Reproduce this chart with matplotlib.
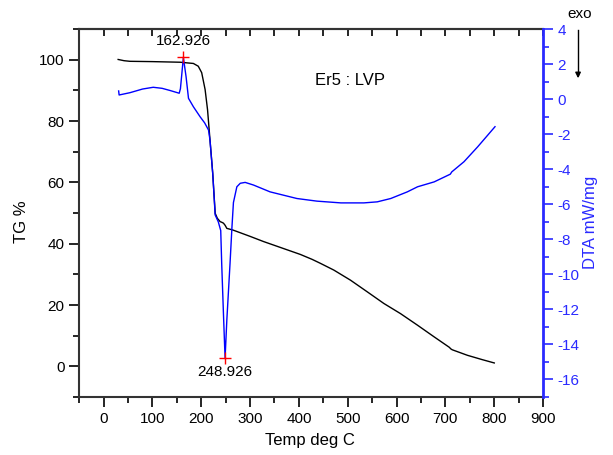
import matplotlib
matplotlib.use("Agg")
import matplotlib.pyplot as plt
from matplotlib.ticker import MultipleLocator, NullFormatter

plt.rcParams['font.family'] = ['Liberation Sans', 'DejaVu Sans']
plt.rcParams['axes.unicode_minus'] = False

# TG curve (black, left axis)
tg_temp = [30, 42, 54, 100, 157, 163.5, 184, 194, 201, 208, 213, 218, 223.6, 226.5,
           228.7, 233, 238.8, 242, 245.6, 249, 252.5, 259.5, 266, 300, 327.7, 360, 403,
           427, 444, 471.5, 505.7, 540, 574, 608, 643, 677, 708, 711, 714, 745, 775, 800]
tg_vals = [100.1, 99.7, 99.5, 99.4, 99.2, 99.1, 98.8, 97.9, 95.8, 90.3, 83.7, 73.9, 63, 55.4,
           49.9, 48.3, 47.2, 47.0, 46.7, 46.0, 45.0, 44.7, 44.4, 42.4, 40.7, 38.9, 36.5,
           34.9, 33.6, 31.4, 28.1, 24.3, 20.5, 17.2, 13.4, 9.6, 6.2, 5.7, 5.4, 3.6, 2.2, 1.1]

# DTA curve (blue, right axis)
dta_temp = [31, 32, 54, 80, 101.8, 120, 137, 155, 157.5, 163.5, 169, 174, 184, 197.7,
            207, 215, 218, 223.6, 226.5, 228.5, 235, 240, 242, 245.5, 248.9, 252.5,
            259, 263, 266, 273, 280, 290, 307, 341, 396, 437, 486, 533, 560.5, 588,
            622, 643, 677, 710, 713, 738, 766, 801.5]
dta_vals = [0.47, 0.24, 0.37, 0.58, 0.68, 0.62, 0.49, 0.34, 0.6, 2.38, 1.29, 0.05, -0.43, -1.0,
            -1.35, -1.76, -2.33, -4.24, -5.58, -6.6, -7.0, -7.5, -9.4, -12.2, -14.79, -12.6,
            -9.4, -7.29, -5.9, -5.0, -4.8, -4.75, -4.9, -5.29, -5.67, -5.82, -5.92, -5.92,
            -5.86, -5.67, -5.29, -5.0, -4.72, -4.28, -4.15, -3.57, -2.72, -1.57]

# marked peaks
peak_temps = [162.926, 248.926]
peak_dta = [2.38, -14.79]
peak_labels = ["162.926", "248.926"]

blue = '#0000ff'
axis_blue = '#2a2aff'

fig = plt.figure(figsize=(6.13, 4.55), dpi=100)
ax = fig.add_axes([0.129, 0.1275, 0.757, 0.8085])
ax2 = ax.twinx()

ax.plot(tg_temp, tg_vals, color='black', lw=1.0)
ax2.plot(dta_temp, dta_vals, color=blue, lw=1.0)
ax2.plot(peak_temps, peak_dta, ls='none', marker='+', color='red', ms=8, mew=1.0)

ax2.annotate(peak_labels[0], (peak_temps[0], peak_dta[0]), xytext=(0, 16),
             textcoords='offset pixels', ha='center', va='center', fontsize=11)
ax2.annotate(peak_labels[1], (peak_temps[1], peak_dta[1]), xytext=(0, -14),
             textcoords='offset pixels', ha='center', va='center', fontsize=11)

ax.set_xlim(-50, 900)
ax.set_ylim(-10, 110)
ax2.set_ylim(-17, 4)

ax.xaxis.set_major_locator(MultipleLocator(100))
ax.xaxis.set_minor_locator(MultipleLocator(50))
ax.yaxis.set_major_locator(MultipleLocator(20))
ax.yaxis.set_minor_locator(MultipleLocator(10))
ax2.yaxis.set_major_locator(MultipleLocator(2))
ax2.yaxis.set_minor_locator(MultipleLocator(1))

ax.tick_params(axis='x', which='major', direction='out', length=7, width=1.2, labelsize=11)
ax.tick_params(axis='x', which='minor', direction='out', length=4, width=1.2)
ax.tick_params(axis='y', which='major', direction='out', length=7, width=1.2, labelsize=11)
ax.tick_params(axis='y', which='minor', direction='out', length=4, width=1.2)
ax2.tick_params(axis='y', which='major', direction='out', length=7, width=1.2,
                colors=axis_blue, labelsize=11)
ax2.tick_params(axis='y', which='minor', direction='out', length=4, width=1.2,
                colors=axis_blue)

# top axis: ticks pointing into the plot, no labels
top = ax.secondary_xaxis('top')
top.xaxis.set_major_locator(MultipleLocator(100))
top.xaxis.set_minor_locator(MultipleLocator(50))
top.xaxis.set_major_formatter(NullFormatter())
top.tick_params(axis='x', which='both', direction='in', length=5, width=1.2)
top.spines['top'].set_linewidth(1.5)
top.spines['top'].set_color('#333333')

for s in ['left', 'bottom', 'top']:
    ax.spines[s].set_linewidth(1.5)
    ax.spines[s].set_color('#333333')
ax.spines['right'].set_visible(False)
ax2.spines['right'].set_color(axis_blue)
ax2.spines['right'].set_linewidth(2)
for s in ['left', 'bottom', 'top']:
    ax2.spines[s].set_visible(False)

ax.set_xlabel("Temp deg C", fontsize=12)
ax.xaxis.set_label_coords(0.498, -0.098)
ax.set_ylabel("TG %", fontsize=12)
ax.yaxis.set_label_coords(-0.108, 0.476)
ax2.set_ylabel("DTA mW/mg", fontsize=12, color=axis_blue)
ax2.yaxis.set_label_coords(1.086, 0.476)

ax.text(0.509, 0.861, "Er5 : LVP", transform=ax.transAxes, fontsize=12, va='center')
fig.text(0.946, 0.969, "exo", fontsize=11, ha='center', va='center')
fig.add_artist(plt.Line2D([0.943, 0.943], [0.934, 0.835], transform=fig.transFigure,
                          color='black', lw=1))
ax.annotate("", xy=(0.943, 0.822), xycoords='figure fraction',
            xytext=(0.943, 0.845), textcoords='figure fraction',
            arrowprops=dict(arrowstyle='-|>', color='black', lw=1, mutation_scale=8))

fig.savefig("out.png", dpi=100)
